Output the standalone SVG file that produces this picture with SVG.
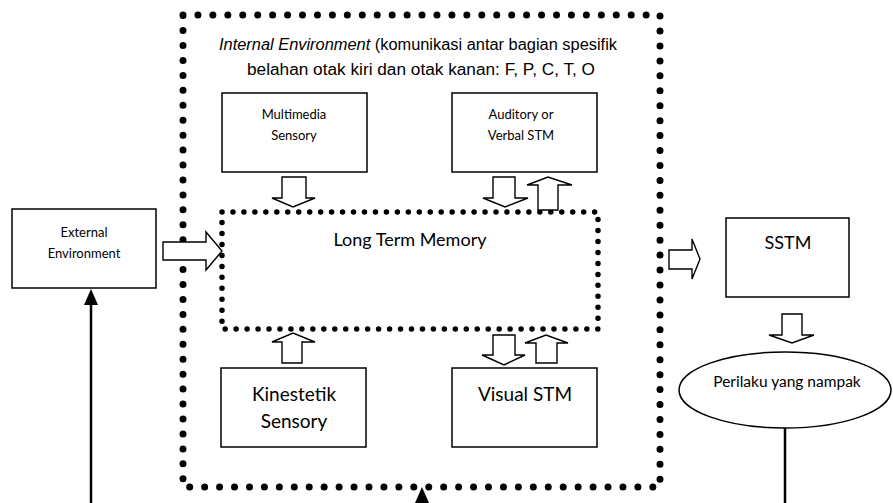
<svg xmlns="http://www.w3.org/2000/svg" width="893" height="503" viewBox="0 0 893 503">
<defs>
<style>
.box{fill:#fff;stroke:#000;stroke-width:1.5}
.barrow{fill:#fff;stroke:#000;stroke-width:1.4;stroke-linejoin:miter}
.lbl{font-family:Lato,"Open Sans","Liberation Sans",sans-serif;fill:#000;text-anchor:middle}
.arial{font-family:"Liberation Sans",Arial,sans-serif;fill:#000;text-anchor:middle}
.dotsO{fill:none;stroke:#000;stroke-width:7;stroke-linecap:round}
.dotsI{fill:none;stroke:#000;stroke-width:5.5;stroke-linecap:round}
.line{fill:none;stroke:#000;stroke-width:2.5}
</style>
<marker id="tri" viewBox="0 0 10 10" refX="10" refY="5" markerWidth="6" markerHeight="6" markerUnits="strokeWidth" orient="auto">
<path d="M0,0 L10,5 L0,10 Z" fill="#000"/>
</marker>
</defs>
<rect width="893" height="503" fill="#fff"/>

<g id="internal-environment">
<rect x="183" y="15" width="477" height="472" class="dotsO" stroke-dasharray="0 14.94"/>
<text class="arial" font-size="16" x="418" y="50" textLength="398" lengthAdjust="spacingAndGlyphs"><tspan font-style="italic">Internal Environment</tspan> (komunikasi antar bagian spesifik</text>
<text class="arial" font-size="16" x="421" y="75" textLength="348" lengthAdjust="spacingAndGlyphs">belahan otak kiri dan otak kanan: F, P, C, T, O</text>
</g>

<g id="long-term-memory">
<rect x="222" y="212" width="376" height="117" class="dotsI" stroke-dasharray="0 10.96"/>
<text class="lbl" font-size="18" x="410" y="246">Long Term Memory</text>
</g>

<g id="external-environment">
<rect x="12" y="209" width="144" height="79" class="box"/>
<text class="lbl" font-size="13" x="84" y="237">External</text>
<text class="lbl" font-size="13" x="84" y="258">Environment</text>
</g>

<g id="multimedia-sensory">
<rect x="222" y="93" width="145" height="79" class="box"/>
<text class="lbl" font-size="13" x="294" y="119">Multimedia</text>
<text class="lbl" font-size="13" x="294" y="140">Sensory</text>
</g>

<g id="auditory-verbal-stm">
<rect x="452" y="93" width="145" height="79" class="box"/>
<text class="lbl" font-size="13" x="521" y="119">Auditory or</text>
<text class="lbl" font-size="13" x="521" y="140">Verbal STM</text>
</g>

<g id="kinestetik-sensory">
<rect x="221" y="368" width="145" height="79" class="box"/>
<text class="lbl" font-size="19" x="294" y="401">Kinestetik</text>
<text class="lbl" font-size="19" x="294" y="428">Sensory</text>
</g>

<g id="visual-stm">
<rect x="452" y="368" width="145" height="79" class="box"/>
<text class="lbl" font-size="19" x="525" y="401">Visual STM</text>
</g>

<g id="sstm">
<rect x="726" y="218" width="123" height="79" class="box"/>
<text class="lbl" font-size="18" x="788" y="249">SSTM</text>
</g>

<g id="perilaku">
<ellipse cx="785" cy="390" rx="106" ry="38" class="box"/>
<text class="lbl" font-size="15.5" x="787" y="387">Perilaku yang nampak</text>
</g>

<g id="connectors">
<polygon class="barrow" points="282,177 306,177 306,198 315,198 293,207 272,198 282,198"/>
<polygon class="barrow" points="493,177 515,177 515,198 528,198 505,207 483,198 493,198"/>
<polygon class="barrow" points="538,210 558,210 558,185 572,185 548,177 527,185 538,185"/>
<polygon class="barrow" points="282,363 302,363 302,342 315,342 293,333 272,342 282,342"/>
<polygon class="barrow" points="493,335 515,335 515,355 525,355 504,365 482,355 493,355"/>
<polygon class="barrow" points="536,363 557,363 557,343 568,343 546,335 525,343 536,343"/>
<polygon class="barrow" points="163,242 206,242 206,232 222,251 206,270 206,260 163,260"/>
<polygon class="barrow" points="669,250 692,250 692,239 700,259 692,279 692,269 669,269"/>
<polygon class="barrow" points="782,314 802,314 802,335 814,335 792,343 769,335 782,335"/>
<line class="line" x1="91" y1="503" x2="91" y2="300"/>
<polygon points="91,289 84,305 98,305" fill="#000"/>
<line class="line" x1="422" y1="503" x2="422" y2="498"/>
<polygon points="422,487 415,503 429,503" fill="#000"/>
<line class="line" x1="785" y1="428" x2="785" y2="503"/>
</g>
</svg>
